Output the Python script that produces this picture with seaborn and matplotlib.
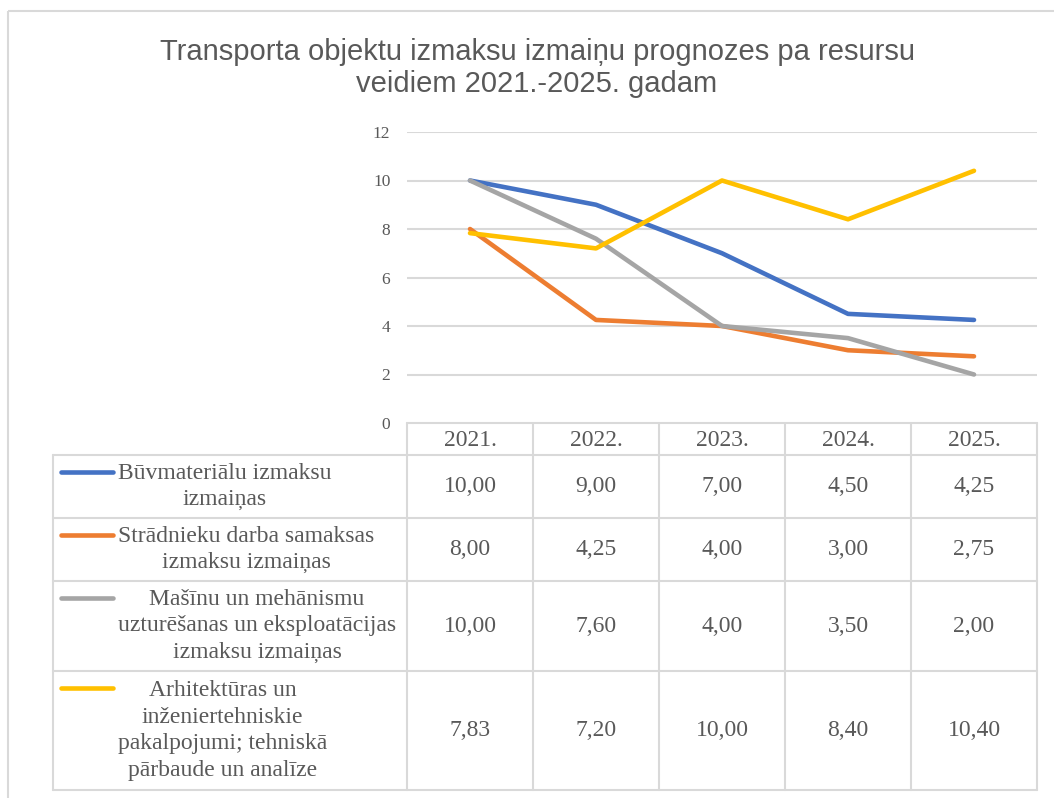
import numpy as np
import pandas as pd
import matplotlib
matplotlib.use("Agg")
import matplotlib.pyplot as plt
import seaborn as sns
from matplotlib.patches import Rectangle

# data
years = ["2021.", "2022.", "2023.", "2024.", "2025."]
series_names = [
    "Būvmateriālu izmaksu\nizmaiņas",
    "Strādnieku darba samaksas\nizmaksu izmaiņas",
    "Mašīnu un mehānismu\nuzturēšanas un eksploatācijas\nizmaksu izmaiņas",
    "Arhitektūras un\ninženiertehniskie\npakalpojumi; tehniskā\npārbaude un analīze",
]
buvmaterialu = [10.00, 9.00, 7.00, 4.50, 4.25]
stradnieku = [8.00, 4.25, 4.00, 3.00, 2.75]
masinu = [10.00, 7.60, 4.00, 3.50, 2.00]
arhitekturas = [7.83, 7.20, 10.00, 8.40, 10.40]
colors = ["#4472C4", "#ED7D31", "#A5A5A5", "#FFC000"]
title = "Transporta objektu izmaksu izmaiņu prognozes pa resursu\nveidiem 2021.-2025. gadam"

all_values = [buvmaterialu, stradnieku, masinu, arhitekturas]
rows = []
for name, vals in zip(series_names, all_values):
    for i, v in enumerate(vals):
        rows.append({"x": i, "value": v, "series": name})
df = pd.DataFrame(rows)

sns.set_theme(style="white")
W, H = 1054, 798
fig = plt.figure(figsize=(W / 100, H / 100), dpi=100)

txt_col = "#595959"
grid_col = "#d9d9d9"
serif = "Liberation Serif"
tfs = 17

# pixel layout
plot_left, plot_right = 407, 1037
plot_top, plot_bottom = 132, 423
row_edges = [423, 455, 518, 581, 671, 790]
table_left = 53

ax = fig.add_axes([plot_left / W, 1 - plot_bottom / H,
                   (plot_right - plot_left) / W, (plot_bottom - plot_top) / H])
sns.lineplot(data=df, x="x", y="value", hue="series", hue_order=series_names,
             palette=colors, linewidth=3.3, legend=False, ax=ax,
             solid_capstyle="round", solid_joinstyle="round")
ax.set_xlim(-0.5, len(years) - 0.5)
ax.set_ylim(0, 12)
ax.set_yticks(np.arange(0, 13, 2))
ax.set_xticks([])
ax.set_xlabel("")
ax.set_ylabel("")
ax.yaxis.grid(True, color=grid_col, linewidth=1.5)
ax.set_axisbelow(True)
for s in ax.spines.values():
    s.set_visible(False)
ax.tick_params(axis="y", length=0, pad=12, labelcolor=txt_col, labelsize=12.5)
for lab in ax.get_yticklabels():
    lab.set_fontfamily(serif)

# overlay in pixel coordinates for title, border and data table
ov = fig.add_axes([0, 0, 1, 1], zorder=-1)
ov.set_xlim(0, W)
ov.set_ylim(H, 0)
ov.axis("off")

ov.add_patch(Rectangle((8, 11), W + 20, H + 20, fill=False, edgecolor=grid_col, linewidth=1.5))
ov.text(537, 68, title, ha="center", va="center", fontsize=21, color=txt_col,
        family="Liberation Sans", linespacing=1.18)

cell_w = (plot_right - plot_left) / len(years)
col_edges = [plot_left + cell_w * i for i in range(len(years) + 1)]
lw = 1.5
# header row borders
ov.plot([plot_left, plot_right], [row_edges[0], row_edges[0]], color=grid_col, lw=lw)
for xe in col_edges:
    ov.plot([xe, xe], [row_edges[0], row_edges[-1]], color=grid_col, lw=lw)
for ye in row_edges[1:]:
    ov.plot([table_left, plot_right], [ye, ye], color=grid_col, lw=lw)
ov.plot([table_left, table_left], [row_edges[1], row_edges[-1]], color=grid_col, lw=lw)

for i, yr in enumerate(years):
    ov.text(plot_left + cell_w * (i + 0.5), (row_edges[0] + row_edges[1]) / 2 + 1, yr,
            ha="center", va="center", fontsize=tfs, color=txt_col, family=serif)

line_gap = 27.5
for r, (name, vals, c) in enumerate(zip(series_names, all_values, colors)):
    yc = (row_edges[r + 1] + row_edges[r + 2]) / 2
    n = name.count("\n") + 1
    ov.text(118, yc, name, ha="left", va="center", multialignment="center",
            fontsize=tfs, color=txt_col, family=serif, linespacing=1.34)
    ky = yc - (n - 1) / 2 * line_gap - 1
    ov.plot([61, 113], [ky, ky], color=c, lw=3.3, solid_capstyle="round")
    for i, v in enumerate(vals):
        ov.text(plot_left + cell_w * (i + 0.5), yc, f"{v:.2f}".replace(".", ","),
                ha="center", va="center", fontsize=tfs, color=txt_col, family=serif)

fig.savefig("out.png", dpi=100)
